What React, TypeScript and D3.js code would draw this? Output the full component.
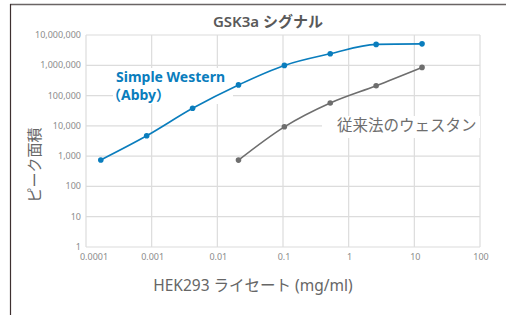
import * as d3 from "d3";
import { useEffect, useRef } from "react";

// lysate concentration (mg/ml), 5-fold dilutions
const swConc = [0.000168, 0.00084, 0.0042, 0.021, 0.105, 0.524, 2.62, 13.1];
const swArea = [750, 4700, 38000, 225000, 990000, 2400000, 4900000, 5100000];
const wbConc = [0.021, 0.105, 0.524, 2.62, 13.1];
const wbArea = [740, 9300, 57000, 212000, 850000];

const xTicks = [0.0001, 0.001, 0.01, 0.1, 1, 10, 100];
const xTickLabels = ["0.0001", "0.001", "0.01", "0.1", "1", "10", "100"];
const yTicks = [1, 10, 100, 1000, 10000, 100000, 1000000, 10000000];

const BLUE = "#0a7dbd";
const GRAY = "#6e6e6e";
const FONT = "'Noto Sans', 'Noto Sans CJK JP', sans-serif";

export default function App() {
  const ref = useRef<SVGSVGElement | null>(null);

  useEffect(() => {
    const el = ref.current;
    if (!el) return;
    const svg = d3.select(el);
    svg.selectAll("*").remove();

    const W = 506;
    const H = 315;
    const margin = { top: 35, right: 26, bottom: 68, left: 86 };
    const iw = W - margin.left - margin.right;
    const ih = H - margin.top - margin.bottom;

    const x = d3.scaleLog().domain([0.0001, 100]).range([0, iw]);
    const y = d3.scaleLog().domain([1, 10000000]).range([ih, 0]);

    svg.attr("viewBox", `0 0 ${W} ${H}`).attr("width", W).attr("height", H);

    // frame
    svg.append("line").attr("x1", 10).attr("x2", W).attr("y1", 4.5).attr("y2", 4.5)
      .attr("stroke", "#6a6464").attr("stroke-width", 1.5);
    svg.append("line").attr("x1", 10.5).attr("x2", 10.5).attr("y1", 4).attr("y2", H)
      .attr("stroke", "#3e3030").attr("stroke-width", 1.2);

    svg.append("text")
      .attr("x", 268).attr("y", 27)
      .attr("text-anchor", "middle")
      .attr("font-family", FONT).attr("font-size", 15).attr("font-weight", 600)
      .attr("fill", "#595959")
      .text("GSK3a シグナル");

    const g = svg.append("g").attr("transform", `translate(${margin.left},${margin.top})`);

    const grid = "#dcdcdc";
    g.append("g").selectAll("line").data(yTicks).join("line")
      .attr("x1", 0).attr("x2", iw)
      .attr("y1", (d) => y(d)).attr("y2", (d) => y(d))
      .attr("stroke", grid).attr("stroke-width", 1.2);
    g.append("g").selectAll("line").data(xTicks).join("line")
      .attr("y1", 0).attr("y2", ih)
      .attr("x1", (d) => x(d)).attr("x2", (d) => x(d))
      .attr("stroke", grid).attr("stroke-width", 1.2);

    g.append("g").selectAll("text").data(yTicks).join("text")
      .attr("x", -5).attr("y", (d) => y(d)).attr("dy", "0.33em")
      .attr("text-anchor", "end")
      .attr("font-family", FONT).attr("font-size", 9).attr("fill", "#8c8c8c")
      .text((d) => d3.format(",")(d));

    g.append("g").selectAll("text").data(xTicks).join("text")
      .attr("x", (d, i) => x(d) + (i === 0 ? 8 : 1))
      .attr("y", ih + 13)
      .attr("text-anchor", "middle")
      .attr("font-family", FONT).attr("font-size", 9).attr("fill", "#8c8c8c")
      .text((_, i) => xTickLabels[i]);

    // label boxes covering gridlines
    g.append("rect").attr("x", 113 - margin.left).attr("y", 68 - margin.top)
      .attr("width", 120).attr("height", 36).attr("fill", "#fff");
    g.append("rect").attr("x", 322 - margin.left).attr("y", 116 - margin.top)
      .attr("width", 158).attr("height", 22).attr("fill", "#fff");

    const series = [
      { xs: swConc, ys: swArea, color: BLUE },
      { xs: wbConc, ys: wbArea, color: GRAY },
    ];
    const line = d3.line<[number, number]>()
      .x((d) => x(d[0])).y((d) => y(d[1]))
      .curve(d3.curveMonotoneX);
    series.forEach((s) => {
      const pts = s.xs.map((v, i) => [v, s.ys[i]] as [number, number]);
      g.append("path").attr("d", line(pts))
        .attr("fill", "none").attr("stroke", s.color).attr("stroke-width", 1.6);
      g.append("g").selectAll("circle").data(pts).join("circle")
        .attr("cx", (d) => x(d[0])).attr("cy", (d) => y(d[1]))
        .attr("r", 2.8).attr("fill", s.color);
    });

    svg.append("text").attr("x", 116).attr("y", 82)
      .attr("font-family", FONT).attr("font-size", 14).attr("font-weight", 700)
      .attr("fill", BLUE).text("Simple Western");
    svg.append("text").attr("x", 107).attr("y", 100)
      .attr("font-family", FONT).attr("font-size", 14).attr("font-weight", 700)
      .attr("fill", BLUE).text("（Abby）");
    svg.append("text").attr("x", 337).attr("y", 131)
      .attr("font-family", FONT).attr("font-size", 15.5)
      .attr("fill", GRAY).text("従来法のウェスタン");

    svg.append("text")
      .attr("transform", "translate(40,165) rotate(-90)")
      .attr("text-anchor", "middle")
      .attr("font-family", FONT).attr("font-size", 15)
      .attr("fill", "#666").text("ピーク面積");

    svg.append("text")
      .attr("x", 253).attr("y", 291)
      .attr("text-anchor", "middle")
      .attr("font-family", FONT).attr("font-size", 15.5)
      .attr("fill", "#666").text("HEK293 ライセート (mg/ml)");
  }, []);

  return <svg ref={ref} style={{ position: "absolute", left: 0, top: 0 }} />;
}
